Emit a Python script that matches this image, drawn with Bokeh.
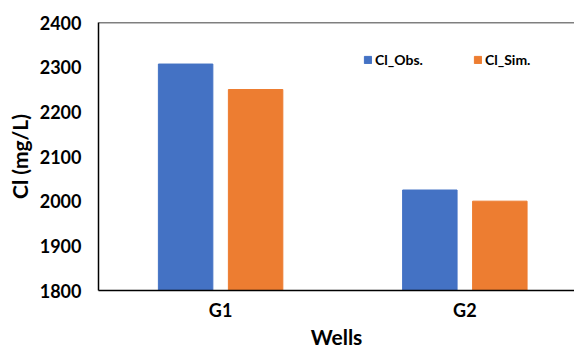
from bokeh.plotting import figure
from bokeh.models import (ColumnDataSource, Range1d, FixedTicker, Legend, LegendItem, Span)
from bokeh.transform import dodge
from bokeh.embed import file_html
from bokeh.resources import INLINE
import numpy as np

wells = ["G1", "G2"]
cl_obs = [2307, 2025]
cl_sim = [2250, 2000]
y_ticks = [1800, 1900, 2000, 2100, 2200, 2300, 2400]

FONT = "Lato"
BLUE = "#4472C4"
ORANGE = "#ED7D31"

xpos = list(np.arange(len(wells)) + 0.5)
src = ColumnDataSource(dict(x=xpos, obs=cl_obs, sim=cl_sim))

p = figure(width=574, height=352, output_backend="svg", toolbar_location=None,
           x_range=Range1d(0, 1.949), y_range=Range1d(y_ticks[0], y_ticks[-1]),
           min_border_left=98, min_border_right=0, min_border_top=22, min_border_bottom=62)

p.outline_line_color = None
p.xgrid.visible = False
p.ygrid.visible = False

r1 = p.vbar(x=dodge("x", -0.1433, range=p.x_range), top="obs", bottom=y_ticks[0],
            width=0.223, source=src, color=BLUE)
r2 = p.vbar(x=dodge("x", 0.1433, range=p.x_range), top="sim", bottom=y_ticks[0],
            width=0.223, source=src, color=ORANGE)

p.add_layout(Span(location=y_ticks[-1], dimension="width", line_color="black", line_width=1.5))

for ax in (p.xaxis[0], p.yaxis[0]):
    ax.axis_line_color = "black"
    ax.axis_line_width = 1.5
    ax.major_tick_line_color = None
    ax.minor_tick_line_color = None
    ax.major_tick_out = 0
    ax.major_tick_in = 0
    ax.major_label_text_font = FONT
    ax.major_label_text_font_style = "bold"
    ax.major_label_text_font_size = "18px"
    ax.major_label_text_color = "#000000"
    ax.axis_label_text_font = FONT
    ax.axis_label_text_font_style = "bold"
    ax.axis_label_text_color = "#000000"

p.yaxis[0].ticker = FixedTicker(ticks=y_ticks)
p.yaxis[0].major_label_standoff = 17
p.yaxis[0].axis_label = "Cl (mg/L)"
p.yaxis[0].axis_label_text_font_size = "21px"
p.yaxis[0].axis_label_standoff = 5

p.xaxis[0].ticker = FixedTicker(ticks=xpos)
p.xaxis[0].major_label_overrides = {float(x): w for x, w in zip(xpos, wells)}
p.xaxis[0].major_label_standoff = 8
p.xaxis[0].axis_label = "Wells"
p.xaxis[0].axis_label_text_font_size = "21px"
p.xaxis[0].axis_label_standoff = 0

legend = Legend(items=[LegendItem(label="Cl_Obs.", renderers=[r1]),
                       LegendItem(label="Cl_Sim.", renderers=[r2])],
                orientation="horizontal", location=(265, 222),
                glyph_width=9, glyph_height=9, label_standoff=3, spacing=50,
                padding=0, margin=0, border_line_color=None, background_fill_alpha=0,
                label_text_font=FONT, label_text_font_style="bold",
                label_text_font_size="14px", label_text_color="#000000")
p.add_layout(legend)

open("out.html", "w").write(file_html(p, INLINE))
